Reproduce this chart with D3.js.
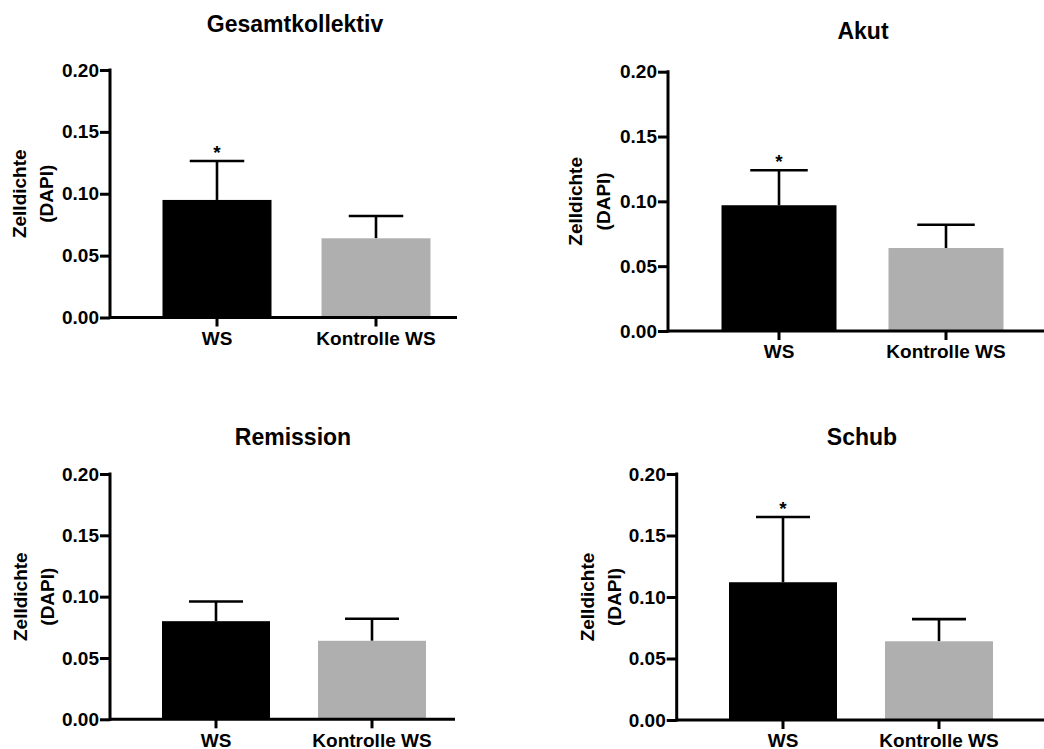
<!DOCTYPE html>
<html lang="de">
<head>
    <meta charset="UTF-8">
    <title>Zelldichte (DAPI)</title>
    <script src="https://d3js.org/d3.v7.min.js"></script>
    <style>
        body { margin: 0; background: #fff; }
        svg text { font-family: "Liberation Sans", Arial, Helvetica, sans-serif; font-weight: bold; fill: #000; }
    </style>
</head>
<body>
    <div id="chart"></div>

    <script>
        // data
        var categories = ["WS", "Kontrolle WS"];
        var panelTitles = ["Gesamtkollektiv", "Akut", "Remission", "Schub"];
        var wsMeans = [0.095, 0.097, 0.080, 0.112];
        var wsErrors = [0.0315, 0.027, 0.016, 0.053];
        var ctrlMeans = [0.064, 0.064, 0.064, 0.064];
        var ctrlErrors = [0.018, 0.018, 0.018, 0.018];
        var significant = [true, true, false, true];
        var yTicks = [0.00, 0.05, 0.10, 0.15, 0.20];
        var yLabel = ["Zelldichte", "(DAPI)"];

        var barColors = ["#000000", "#afafb0"];

        // panel geometry (pixels)
        var layout = [
            {ax: 110,   top: 70,    bottom: 317.5, xEnd: 457,  c1: 217, c2: 376, bw: 109, tx: 295, ty: 32,  lab1: 19,  lab2: 46},
            {ax: 668,   top: 71.7,  bottom: 331,   xEnd: 1044, c1: 779, c2: 946, bw: 115, tx: 863, ty: 39,  lab1: 575, lab2: 603},
            {ax: 110,   top: 474,   bottom: 719.3, xEnd: 455,  c1: 216, c2: 372, bw: 108, tx: 293, ty: 445, lab1: 20,  lab2: 47},
            {ax: 676.7, top: 474,   bottom: 720,   xEnd: 1044, c1: 783, c2: 939, bw: 108, tx: 862, ty: 445, lab1: 587, lab2: 614}
        ];

        var svg = d3.select("#chart")
            .append("svg")
            .attr("width", 1044)
            .attr("height", 749);

        function draw_panel(i) {
            var L = layout[i];
            var g = svg.append("g");

            var y = d3.scaleLinear()
                .domain([0, 0.2])
                .range([L.bottom, L.top]);

            var step = L.c2 - L.c1;
            var p = 1 - L.bw / step;
            var x = d3.scaleBand()
                .domain(categories)
                .range([L.c1 - step / 2, L.c2 + step / 2])
                .paddingInner(p)
                .paddingOuter(p / 2);

            var rows = [
                {cat: categories[0], mean: wsMeans[i], err: wsErrors[i], color: barColors[0]},
                {cat: categories[1], mean: ctrlMeans[i], err: ctrlErrors[i], color: barColors[1]}
            ];

            // error bars (drawn first so bar covers the lower part)
            rows.forEach(function(d) {
                var cx = x(d.cat) + x.bandwidth() / 2;
                g.append("line")
                    .attr("x1", cx).attr("x2", cx)
                    .attr("y1", y(d.mean)).attr("y2", y(d.mean + d.err))
                    .attr("stroke", "#000").attr("stroke-width", 2.6);
                g.append("line")
                    .attr("x1", cx - x.bandwidth() / 4).attr("x2", cx + x.bandwidth() / 4)
                    .attr("y1", y(d.mean + d.err)).attr("y2", y(d.mean + d.err))
                    .attr("stroke", "#000").attr("stroke-width", 2.6);
            });

            // bars
            g.selectAll("rect.bar")
                .data(rows)
                .enter()
                .append("rect")
                    .attr("class", "bar")
                    .attr("x", function(d) { return x(d.cat); })
                    .attr("y", function(d) { return y(d.mean); })
                    .attr("width", x.bandwidth())
                    .attr("height", function(d) { return y(0) - y(d.mean); })
                    .attr("fill", function(d) { return d.color; });

            // significance star
            if (significant[i]) {
                g.append("text")
                    .attr("x", x(categories[0]) + x.bandwidth() / 2)
                    .attr("y", y(wsMeans[i] + wsErrors[i]) - 2)
                    .attr("text-anchor", "middle")
                    .style("font-size", "19px")
                    .text("*");
            }

            // Y axis
            var yAxis = g.append("g")
                .attr("transform", "translate(" + L.ax + ",0)")
                .call(d3.axisLeft(y).tickValues(yTicks).tickFormat(d3.format(".2f")).tickSize(10).tickSizeOuter(0).tickPadding(1));
            yAxis.select(".domain").remove();
            yAxis.selectAll(".tick line").attr("stroke", "#000").attr("stroke-width", 3);
            yAxis.selectAll(".tick text").style("font-size", "19px").attr("font-family", null).attr("fill", "#000");
            g.append("line")
                .attr("x1", L.ax).attr("x2", L.ax)
                .attr("y1", L.top - 1.5).attr("y2", L.bottom + 1.5)
                .attr("stroke", "#000").attr("stroke-width", 3);

            // X axis
            var xAxis = g.append("g")
                .attr("transform", "translate(0," + L.bottom + ")")
                .call(d3.axisBottom(x).tickSize(9).tickSizeOuter(0).tickPadding(5));
            xAxis.select(".domain").remove();
            xAxis.selectAll(".tick line").attr("stroke", "#000").attr("stroke-width", 3);
            xAxis.selectAll(".tick text").style("font-size", "19px").attr("font-family", null).attr("fill", "#000");
            g.append("line")
                .attr("x1", L.ax).attr("x2", L.xEnd)
                .attr("y1", L.bottom).attr("y2", L.bottom)
                .attr("stroke", "#000").attr("stroke-width", 3);

            // title
            g.append("text")
                .attr("x", L.tx)
                .attr("y", L.ty)
                .attr("text-anchor", "middle")
                .style("font-size", "23px")
                .text(panelTitles[i]);

            // y label (two lines)
            var midY = (L.top + L.bottom) / 2;
            [L.lab1, L.lab2].forEach(function(lx, k) {
                g.append("text")
                    .attr("transform", "translate(" + lx + "," + midY + ") rotate(-90)")
                    .attr("text-anchor", "middle")
                    .attr("dy", "0.36em")
                    .style("font-size", "19px")
                    .text(yLabel[k]);
            });
        }

        for (var i = 0; i < panelTitles.length; i++) {
            draw_panel(i);
        }
    </script>
</body>
</html>
